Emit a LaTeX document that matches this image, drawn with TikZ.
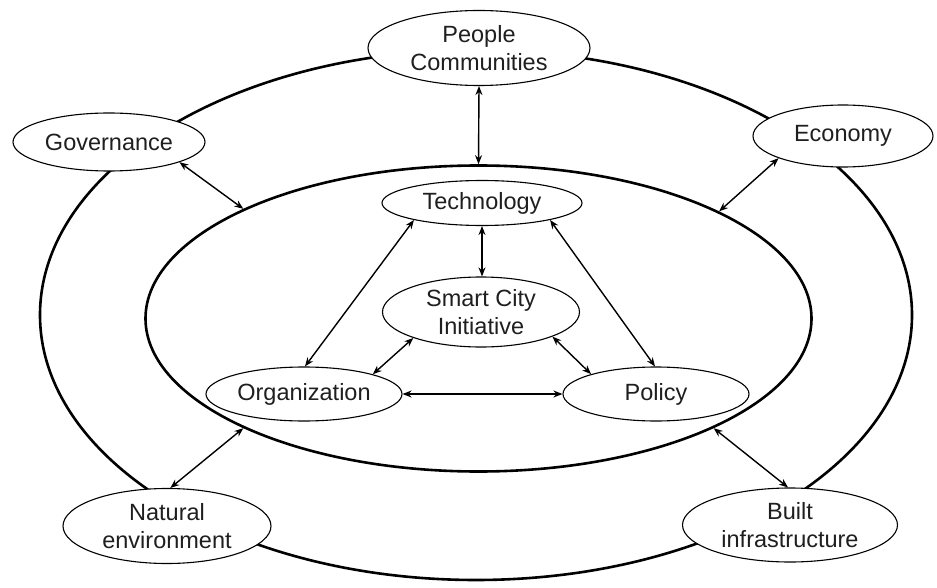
\documentclass[tikz,border=0pt]{standalone}
\usepackage{fontspec}
\setmainfont{Liberation Sans}
\usetikzlibrary{shapes.geometric,arrows.meta}
\begin{document}
\begin{tikzpicture}[x=1pt,y=-1pt,
  ring/.style={draw, ellipse, line width=2.6pt, inner sep=0pt},
  bubble/.style={draw, ellipse, fill=white, line width=1.1pt, inner sep=0pt, align=center,
    font=\fontsize{23.5}{27.5}\selectfont, text=black!88},
  link/.style={line width=1.4pt, {Stealth[length=9pt,width=7pt]}-{Stealth[length=9pt,width=7pt]}}
]
\useasboundingbox (0,0) rectangle (937,588);
% rings
\node[ring, minimum width=872pt, minimum height=530pt] (outer) at (476,315) {};
\node[ring, minimum width=666pt, minimum height=306pt] (inner) at (478.5,318.5) {};
% outer nodes
\node[bubble, minimum width=222pt, minimum height=75pt] (people) at (479,48) {People\\Communities};
\node[bubble, minimum width=192pt, minimum height=58pt] (gov) at (109,142) {Governance};
\node[bubble, minimum width=180pt, minimum height=62pt] (econ) at (843,136) {Economy};
\node[bubble, minimum width=208pt, minimum height=75pt] (nat) at (167,526) {Natural\\environment};
\node[bubble, minimum width=215pt, minimum height=74pt] (built) at (790,525) {Built\\infrastructure};
% inner nodes
\node[bubble, minimum width=200pt, minimum height=45pt] (tech) at (482,203) {Technology};
\node[bubble, minimum width=197pt, minimum height=70pt] (smart) at (481,312) {Smart City\\Initiative};
\node[bubble, minimum width=196pt, minimum height=54pt] (org) at (304,394) {Organization};
\node[bubble, minimum width=186pt, minimum height=54pt] (pol) at (656,394) {Policy};
% outer links
\draw[link] (people.south) -- (inner.90);
\draw[link] (gov.-16) -- (inner.155.5);
\draw[link] (econ.199) -- (inner.24.5);
\draw[link] (nat.85) -- (inner.205);
\draw[link] (built.93) -- (inner.335);
% inner links
\draw[link] (tech.south) -- (tech.south |- smart.north);
\draw[link] (tech.194) -- (org.88);
\draw[link] (tech.-14) -- (pol.92);
\draw[link] (smart.201) -- (org.16);
\draw[link] (smart.-19) -- (pol.163);
\draw[link] (org.east) -- (pol.west);
\end{tikzpicture}
\end{document}
